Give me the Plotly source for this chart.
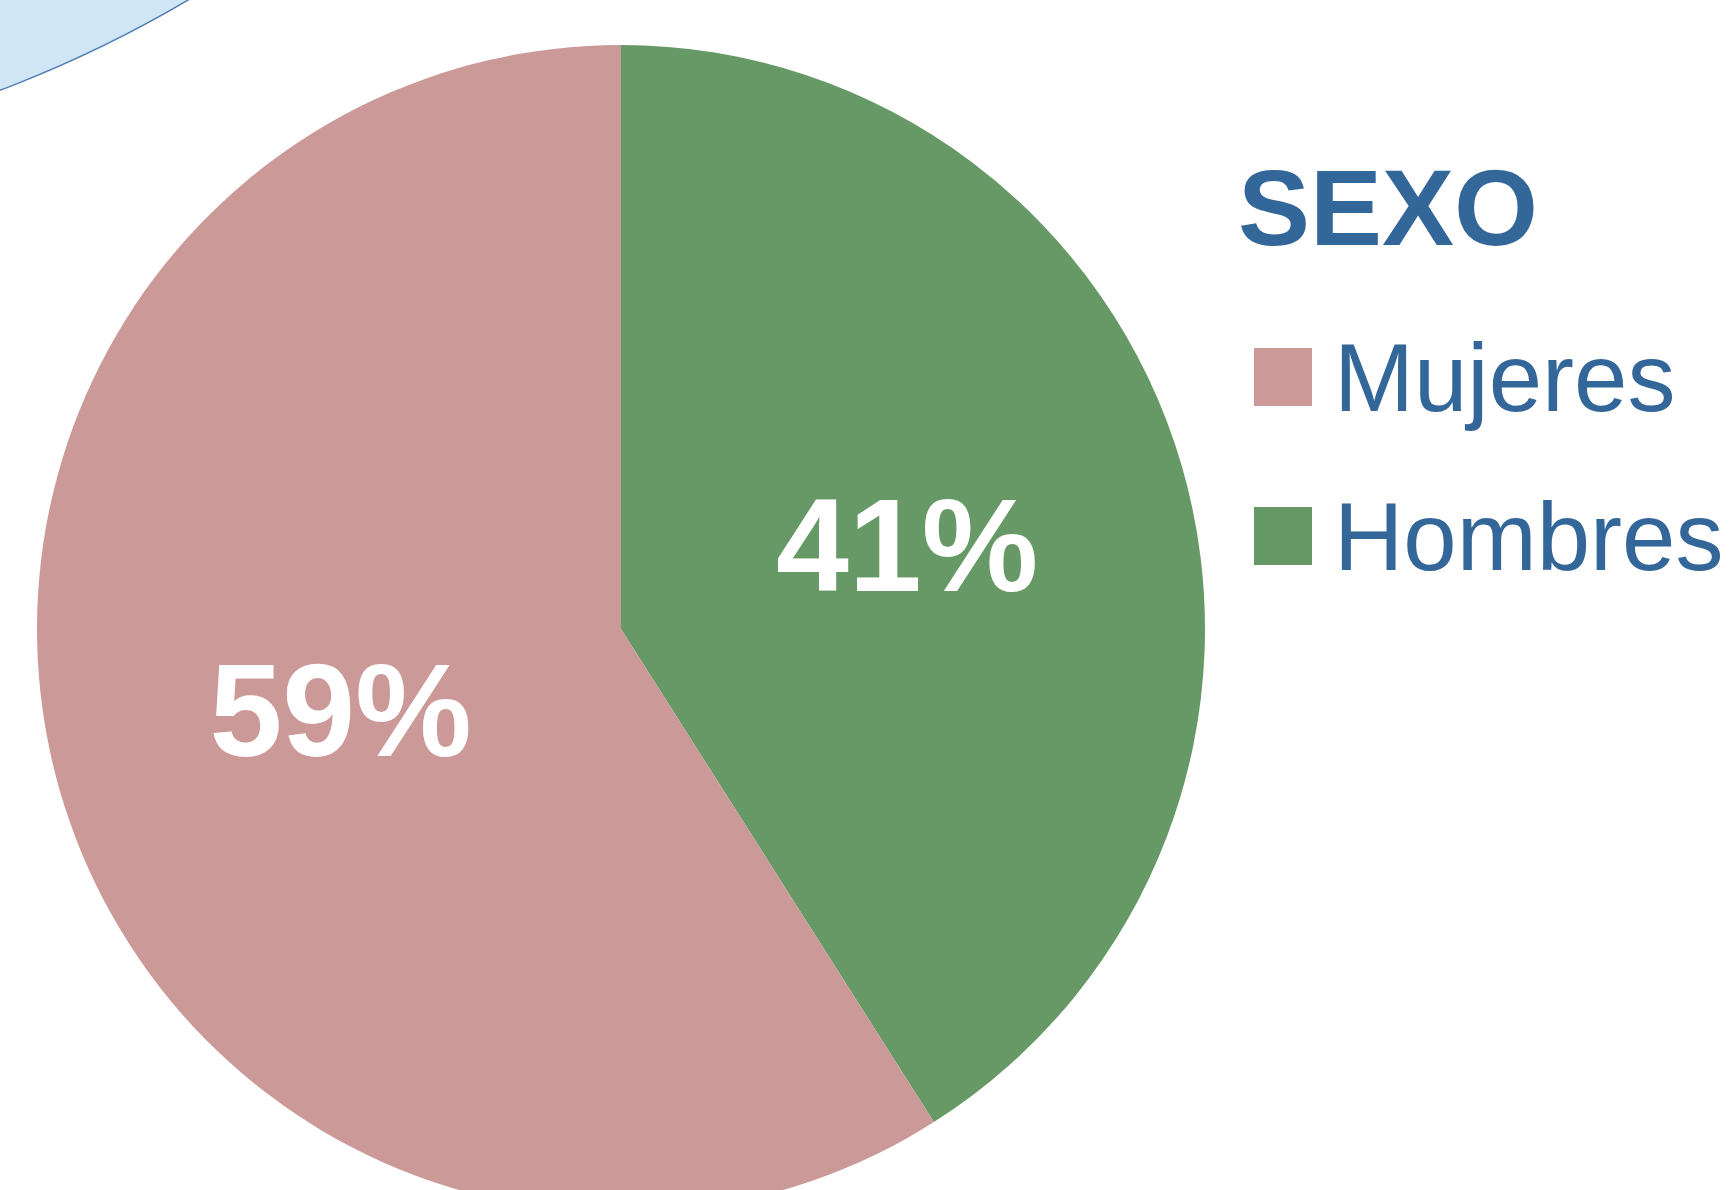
import plotly.graph_objects as go

# Data
labels = ["Mujeres", "Hombres"]
values = [59, 41]
colors = ["#CC9999", "#669966"]
legend_title = "SEXO"

W, H = 1730, 1240
TEXT_BLUE = "#336699"
FONT = "Arial, Liberation Sans, sans-serif"

def px(x):
    return x / W

def py(y):
    return (H - y) / H

# Hombres starts at 12 o'clock going clockwise; Mujeres fills the rest
fig = go.Figure()
fig.add_trace(go.Pie(
    labels=labels[::-1],
    values=values[::-1],
    marker=dict(colors=colors[::-1], line=dict(width=0)),
    sort=False,
    direction="clockwise",
    rotation=0,
    textinfo="percent",
    textposition="inside",
    insidetextorientation="horizontal",
    textfont=dict(family=FONT, size=131, color="white", weight="bold"),
    domain=dict(x=[px(37), px(1205)], y=[py(1213), py(45)]),
    showlegend=False,
    hoverinfo="label+percent",
))

shapes = [
    # decorative light-blue circle at top-left
    dict(type="circle", xref="paper", yref="paper",
         x0=px(-435 - 1227), x1=px(-435 + 1227),
         y0=py(-1057 + 1227), y1=py(-1057 - 1227),
         fillcolor="#D0E6F4", line=dict(color="#4F7FB3", width=1.5),
         layer="below"),
]
annotations = [
    dict(text="<b>%s</b>" % legend_title, xref="paper", yref="paper",
         x=px(1236), y=py(207), xanchor="left", yanchor="middle",
         showarrow=False, font=dict(family=FONT, size=108, color=TEXT_BLUE)),
]
sw_top = [348, 507]
txt_mid = [377, 536]
for i, (lab, col) in enumerate(zip(labels, colors)):
    shapes.append(dict(type="rect", xref="paper", yref="paper",
                       x0=px(1254), x1=px(1312),
                       y0=py(sw_top[i] + 58), y1=py(sw_top[i]),
                       fillcolor=col, line=dict(width=0)))
    annotations.append(dict(text=lab, xref="paper", yref="paper",
                            x=px(1332), y=py(txt_mid[i]), xanchor="left", yanchor="middle",
                            showarrow=False,
                            font=dict(family=FONT, size=96, color=TEXT_BLUE)))

fig.update_layout(
    width=W, height=H,
    margin=dict(l=0, r=0, t=0, b=0),
    paper_bgcolor="white",
    plot_bgcolor="white",
    shapes=shapes,
    annotations=annotations,
    showlegend=False,
)

fig.write_html("out.html",
               config=dict(displayModeBar=False),
               post_script="document.body.style.margin='0';document.body.style.overflow='hidden';")
